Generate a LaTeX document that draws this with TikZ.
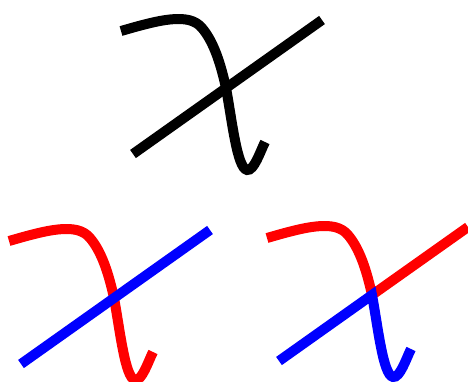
\documentclass[tikz,border=0pt]{standalone}
\usepackage{tikz}

\begin{document}
\begin{tikzpicture}[
    x=0.02cm, y=-0.02cm,
    stroke/.style={line width=0.2cm, line cap=butt, line join=miter}
]
% Frame (pixel units, y down)
\clip (0,0) rectangle (468,382);

% Top: whole glyph in black
\begin{scope}[shift={(121,31)}]
  \coordinate (tA) at (0,0);
  \coordinate (tX) at (105,57);
  \coordinate (tL) at (12,123);
  \coordinate (tR) at (201,-11);
  \draw[stroke, black] (tA) .. controls (38,-11) and (68,-19) .. (81,-3)
    .. controls (93,11) and (100,34) .. (tX)
    .. controls (111,89) and (116,137) .. (126,139)
    .. controls (133,140) and (139,121) .. (144,111);
  \draw[stroke, black] (tL) -- (tR);
\end{scope}

% Bottom left: red curve, blue line on top
\begin{scope}[shift={(9,241)}]
  \coordinate (lA) at (0,0);
  \coordinate (lX) at (105,57);
  \coordinate (lL) at (12,123);
  \coordinate (lR) at (201,-11);
  \draw[stroke, red] (lA) .. controls (38,-11) and (68,-19) .. (81,-3)
    .. controls (93,11) and (100,34) .. (lX)
    .. controls (111,89) and (116,137) .. (126,139)
    .. controls (133,140) and (139,121) .. (144,111);
  \draw[stroke, blue] (lL) -- (lR);
\end{scope}

% Bottom right: split at the crossing
\begin{scope}[shift={(267,238)}]
  \coordinate (rA) at (0,0);
  \coordinate (rX) at (105,57);
  \coordinate (rL) at (12,123);
  \coordinate (rR) at (201,-11);
  \draw[stroke, red] (rA) .. controls (38,-11) and (68,-19) .. (81,-3)
    .. controls (93,11) and (100,34) .. (rX) -- (rR);
  \draw[stroke, blue] (rL) -- (rX)
    .. controls (111,89) and (116,137) .. (126,139)
    .. controls (133,140) and (139,121) .. (144,111);
\end{scope}
\end{tikzpicture}
\end{document}
